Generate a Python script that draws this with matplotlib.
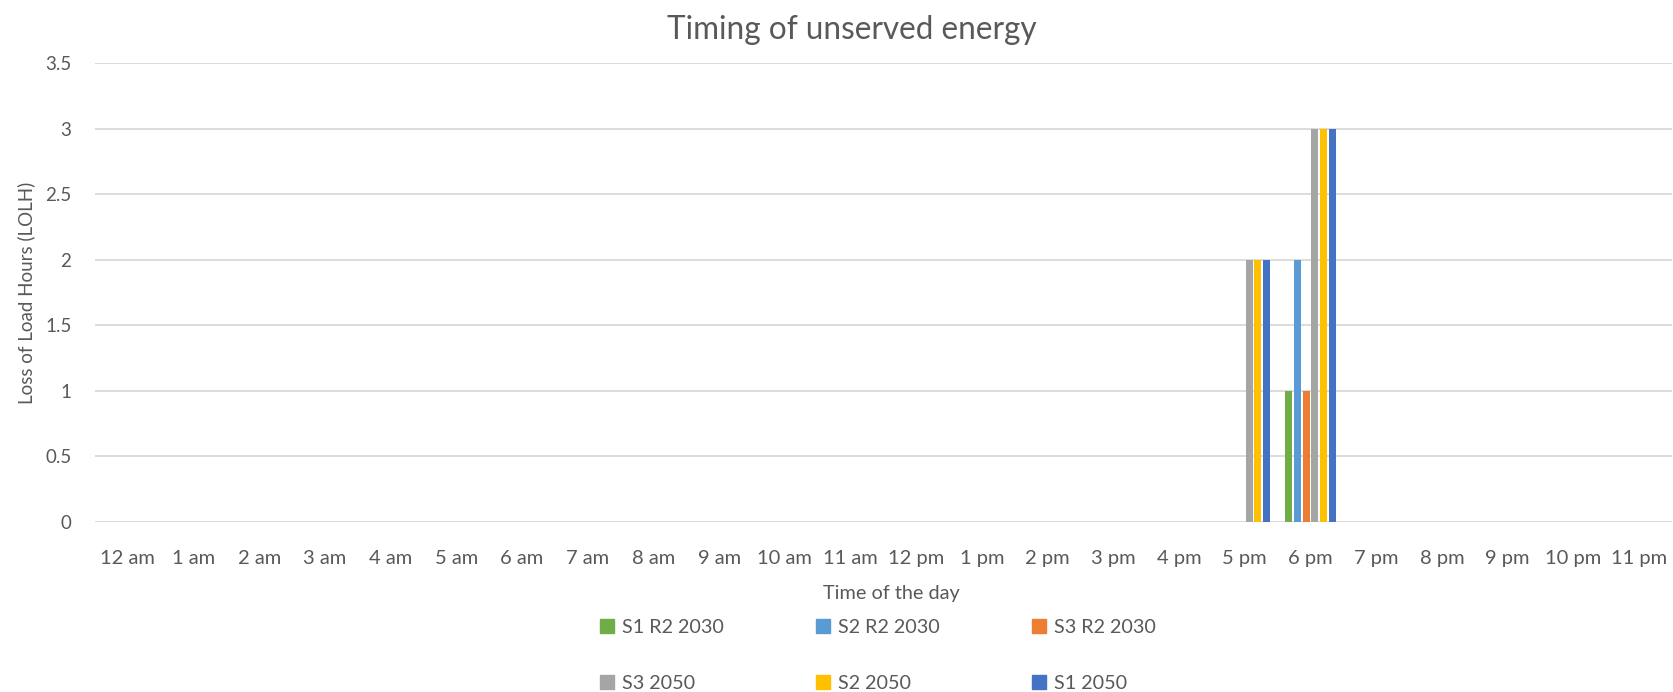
import numpy as np
import matplotlib.pyplot as plt
from matplotlib.patches import Patch

# categories (hour of the day)
hours = ["12 am", "1 am", "2 am", "3 am", "4 am", "5 am", "6 am", "7 am", "8 am",
         "9 am", "10 am", "11 am", "12 pm", "1 pm", "2 pm", "3 pm", "4 pm", "5 pm",
         "6 pm", "7 pm", "8 pm", "9 pm", "10 pm", "11 pm"]

series_names = ["S1 R2 2030", "S2 R2 2030", "S3 R2 2030", "S3 2050", "S2 2050", "S1 2050"]
series_colors = ["#70AD47", "#5B9BD5", "#ED7D31", "#A5A5A5", "#FFC000", "#4472C4"]

# loss of load hours per hour of the day
s1_r2_2030 = [0]*17 + [0, 1] + [0]*5
s2_r2_2030 = [0]*17 + [0, 2] + [0]*5
s3_r2_2030 = [0]*17 + [0, 1] + [0]*5
s3_2050    = [0]*17 + [2, 3] + [0]*5
s2_2050    = [0]*17 + [2, 3] + [0]*5
s1_2050    = [0]*17 + [2, 3] + [0]*5
all_series = [s1_r2_2030, s2_r2_2030, s3_r2_2030, s3_2050, s2_2050, s1_2050]

txt = "#595959"
plt.rcParams['font.family'] = ['Lato', 'DejaVu Sans']

fig = plt.figure(figsize=(16.73, 6.92), dpi=100)
ax = fig.add_axes([0.0568, 0.2457, 0.9425, 0.6633])

x = np.arange(len(hours))
group = 0.79
slot = group / len(all_series)
for i, (vals, name, col) in enumerate(zip(all_series, series_names, series_colors)):
    pos = x - group/2 + slot*(i + 0.5)
    v = np.array(vals, dtype=float)
    m = v > 0
    ax.bar(pos[m], v[m], width=slot*0.82, color=col, zorder=3)

ax.set_xlim(-0.5, len(hours) - 0.5)
ax.set_ylim(0, 3.5)
ax.set_yticks(np.arange(0, 3.51, 0.5))
ax.set_yticklabels(["0", "0.5", "1", "1.5", "2", "2.5", "3", "3.5"])
ax.set_xticks(x)
ax.set_xticklabels(hours)
ax.tick_params(axis='both', length=0, colors=txt)
ax.tick_params(axis='y', pad=17, labelsize=13.5)
ax.tick_params(axis='x', pad=20, labelsize=14.5)
ax.yaxis.grid(True, color="#D9D9D9", linewidth=1.3, zorder=0)
ax.set_axisbelow(True)
for s in ax.spines.values():
    s.set_visible(False)

ax.set_ylabel("Loss of Load Hours (LOLH)", fontsize=13.5, color=txt, labelpad=7)
fig.text(0.533, 0.143, "Time of the day", ha="center", va="center", fontsize=14.3, color=txt)
fig.text(0.509, 0.957, "Timing of unserved energy", ha="center", va="center", fontsize=22.7, color=txt)

# legend, 2 rows x 3 columns (matplotlib fills column by column)
handles = [Patch(color=c, label=n) for n, c in zip(series_names, series_colors)]
order = [0, 3, 1, 4, 2, 5]
leg = fig.legend([handles[k] for k in order], [series_names[k] for k in order],
                 ncol=3, loc="center left", bbox_to_anchor=(0.348, 0.053),
                 frameon=False, fontsize=14.2, handlelength=0.7, handleheight=0.7,
                 handletextpad=0.4, columnspacing=4.7, labelspacing=1.95)
for t in leg.get_texts():
    t.set_color(txt)

fig.savefig("out.png", dpi=100)
